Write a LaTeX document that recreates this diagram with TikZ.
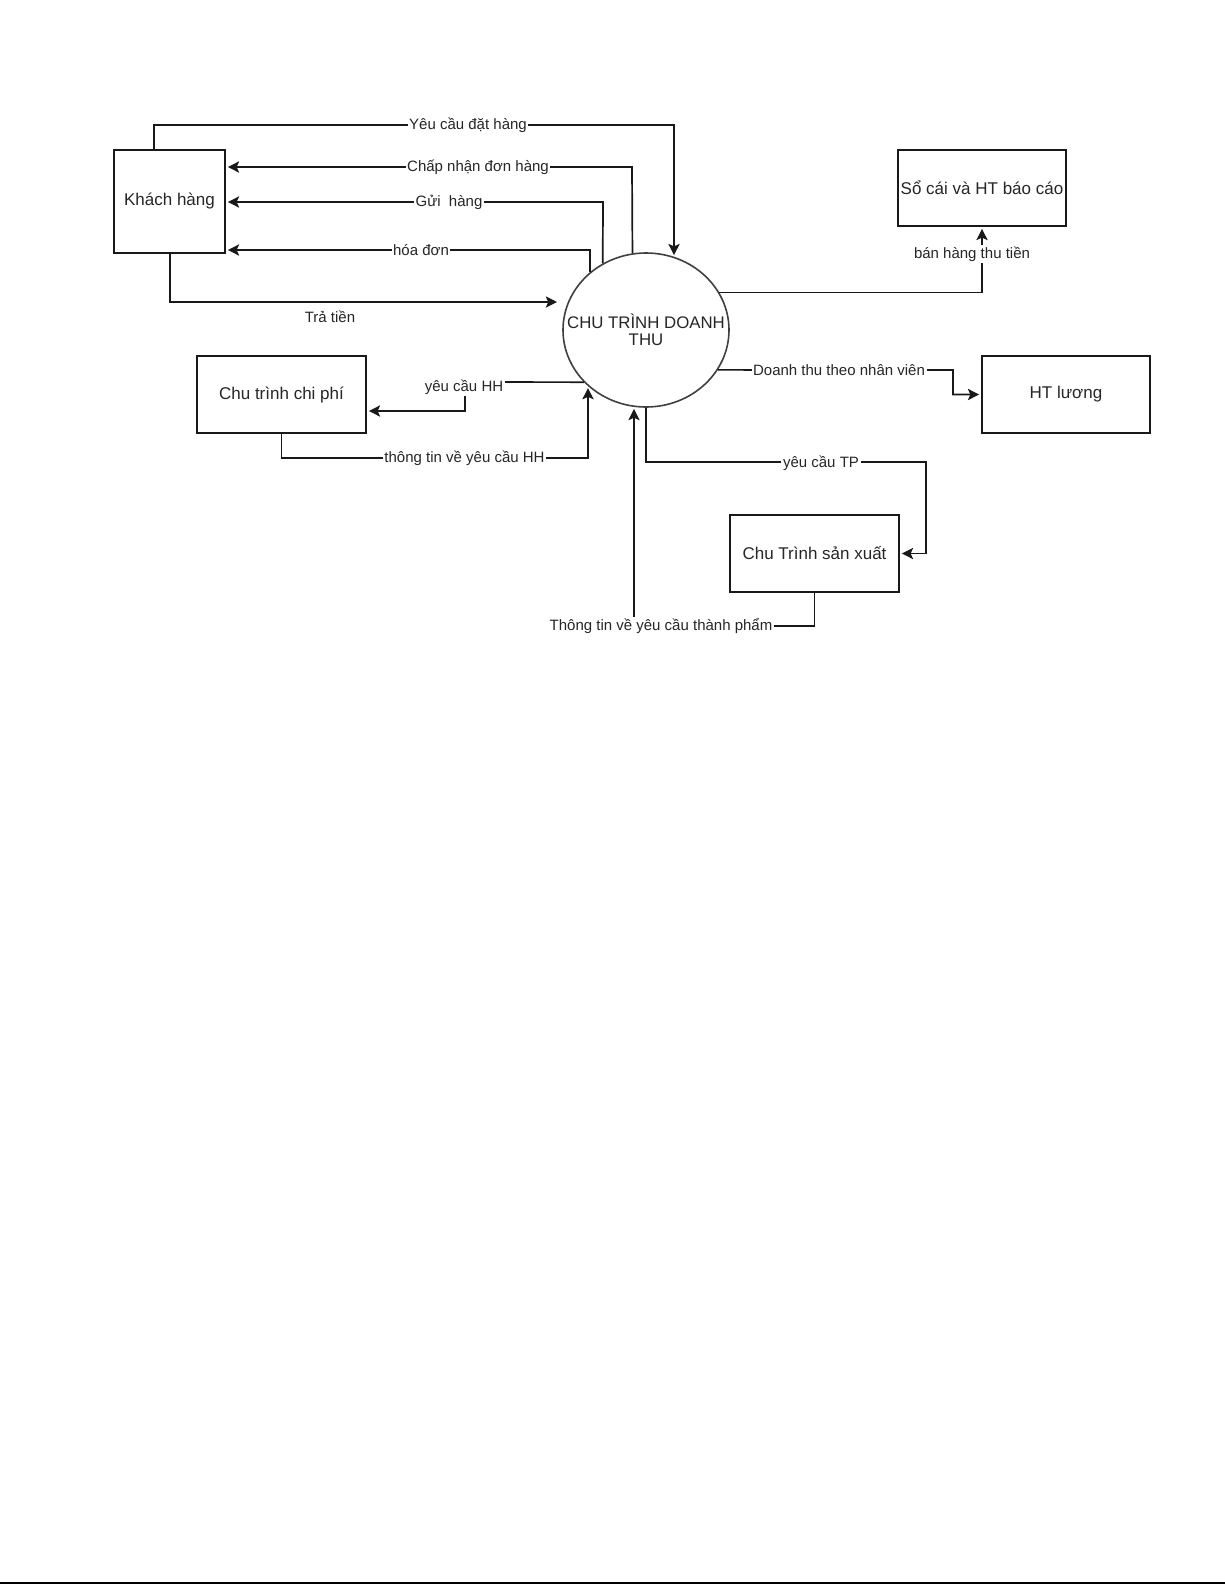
\documentclass[tikz,border=0pt]{standalone}
\usepackage{fontspec}
\setmainfont{Liberation Sans}
\usetikzlibrary{arrows.meta,shapes.geometric}
\begin{document}
\begin{tikzpicture}[x=0.5pt,y=-0.5pt,
  box/.style={draw=black!90, line width=0.85pt, inner sep=0pt, font=\fontsize{8.5}{10}\selectfont, text=black!85},
  proc/.style={ellipse, draw=black!75, line width=0.8pt, inner sep=0pt, minimum width=83pt, minimum height=77pt},
  flow/.style={draw=black!90, line width=0.85pt, shorten >=1pt, -{Stealth[length=5.6pt,width=5.6pt,inset=1.2pt]}},
  lbl/.style={fill=white, inner sep=0.8pt, font=\fontsize{7.5}{9}\selectfont, text=black!85}]
\useasboundingbox (0,0) rectangle (1225,1585);
\fill[white] (0,0) rectangle (1225,1585);

% nodes
\node[box, minimum width=55.5pt, minimum height=51.5pt] (kh) at (169.5,201.5) {Khách hàng};
\node[box, minimum width=84pt, minimum height=38pt] (sc) at (982,188) {Sổ cái và HT báo cáo};
\node[box, minimum width=84pt, minimum height=38.5pt] (htl) at (1066,394.5) {HT lương};
\node[box, minimum width=84.5pt, minimum height=38.5pt] (cp) at (281.5,394.5) {Chu trình chi phí};
\node[box, minimum width=84.5pt, minimum height=38.5pt] (sx) at (814.5,553.5) {Chu Trình sản xuất};
\node[proc] (c) at (646,330) {};
\node[align=center, inner sep=0pt, font=\fontsize{8.4}{8.6}\selectfont, text=black!85] (ct) at (c.center) {CHU TRÌNH DOANH\\THU};

% waypoints
\coordinate (a1) at (154,125);
\coordinate (b1) at (674,125);
\coordinate (w2) at (632,167);
\coordinate (w3) at (603,202);
\coordinate (w4) at (590,250);
\coordinate (w5) at (170,302);
\coordinate (e5) at (559,302);
\coordinate (w7) at (953,370);
\coordinate (w8a) at (465,382);
\coordinate (w8b) at (465,411);
\coordinate (w9) at (588,458);
\coordinate (w10) at (926,462);
\coordinate (w11) at (634,626);

% connectors
\draw[flow] (kh.north -| a1) -- (a1) -- (b1) -- (b1 |- c.68.9);
\draw[flow] (c.100.45) -- (w2) -- (kh.east |- w2);
\draw[flow] (c.123.1) -- (w3) -- (kh.east |- w3);
\draw[flow] (c.134.6) -- (w4) -- (kh.east |- w4);
\draw[flow] (kh.south -| w5) -- (w5) -- (e5);
\draw[flow] (c.27.8) -| (sc.south);
\draw[flow] (c.-29.4) -- (w7) |- (htl.west);
\draw[flow] (c.220.45) -- (w8a) -- (w8b) -- (cp.east |- w8b);
\draw[flow] (cp.south) |- (w9) -- (w9 |- c.224.5);
\draw[flow] (c.south) |- (w10) |- (sx.east);
\draw[flow] (sx.south) |- (w11) -- (w11 |- c.261.05);

% labels
\node[lbl] (l1) at (468,125) {Yêu cầu đặt hàng};
\node[lbl] (l2) at (478,167) {Chấp nhận đơn hàng};
\node[lbl] (l3) at (449,202) {Gửi\ \ hàng};
\node[lbl] (l4) at (421,250) {hóa đơn};
\node[lbl] (l5) at (330,317) {Trả tiền};
\node[lbl] (l6) at (972,254) {bán hàng thu tiền};
\node[lbl] (l7) at (839,370) {Doanh thu theo nhân viên};
\node[lbl] (l8) at (464,387) {yêu cầu HH};
\node[lbl] (l9) at (464.5,458) {thông tin về yêu cầu HH};
\node[lbl] (l10) at (821,463) {yêu cầu TP};
\node[lbl] (l11) at (661,626) {Thông tin về yêu cầu thành phẩm};

% page rule at bottom
\draw[line width=1pt] (0,1583) -- (1225,1583);
\end{tikzpicture}
\end{document}
